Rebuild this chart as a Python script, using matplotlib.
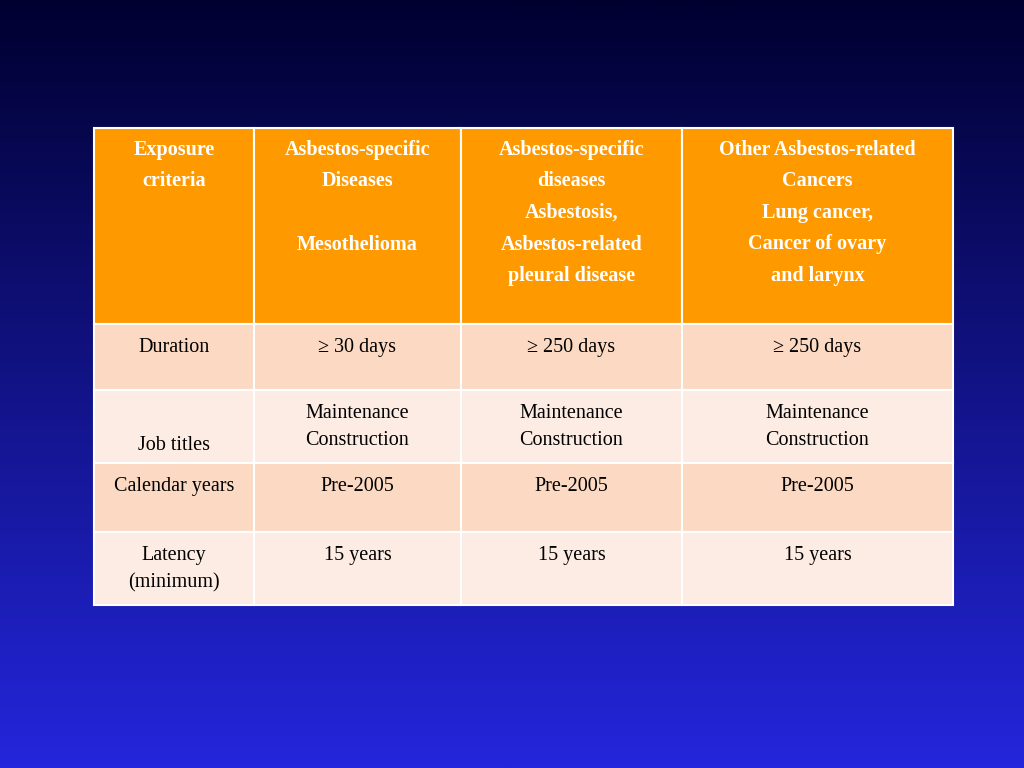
import numpy as np
import matplotlib.pyplot as plt
from matplotlib.patches import Rectangle

# table content
header = [
    ["Exposure", "criteria", "", "", ""],
    ["Asbestos-specific", "Diseases", "", "Mesothelioma", ""],
    ["Asbestos-specific", "diseases", "Asbestosis,", "Asbestos-related", "pleural disease"],
    ["Other Asbestos-related", "Cancers", "Lung cancer,", "Cancer of ovary", "and larynx"],
]
row_labels = ["Duration", "Job titles", "Calendar years", "Latency\n(minimum)"]
duration = ["\u2265 30 days", "\u2265 250 days", "\u2265 250 days"]
job_titles = ["Maintenance\nConstruction"] * 3
calendar_years = ["Pre-2005"] * 3
latency = ["15 years"] * 3
body = [duration, job_titles, calendar_years, latency]

col_edges = [94, 254, 461, 682, 953]
row_edges = [128, 324, 390, 463, 532, 605]
row_colors = ["#fbd9c2", "#fdece3", "#fbd9c2", "#fdece3"]
orange = "#ff9900"

fig = plt.figure(figsize=(10.24, 7.68), dpi=100)
ax = fig.add_axes([0, 0, 1, 1])
ax.set_xlim(0, 1024)
ax.set_ylim(768, 0)
ax.axis("off")

# background gradient
top = np.array([0x00, 0x00, 0x30]) / 255
bot = np.array([0x24, 0x26, 0xdc]) / 255
t = np.linspace(0, 1, 256)[:, None]
grad = top + (bot - top) * t
ax.imshow(grad[:, None, :], extent=(0, 1024, 768, 0), aspect="auto", zorder=0)

font = "Liberation Serif"
fs = 14.5
lh = 31.5

# header row
for c in range(4):
    x0, x1 = col_edges[c], col_edges[c + 1]
    ax.add_patch(Rectangle((x0, row_edges[0]), x1 - x0, row_edges[1] - row_edges[0],
                           facecolor=orange, edgecolor="white", lw=1.5, zorder=1))
    for i, line in enumerate(header[c]):
        if line:
            ax.text((x0 + x1) / 2, 150 + i * lh, line, ha="center", va="center",
                    color="white", fontsize=fs, fontweight="bold", family=font, zorder=2)

# body rows
for r in range(4):
    y0, y1 = row_edges[r + 1], row_edges[r + 2]
    for c in range(4):
        x0, x1 = col_edges[c], col_edges[c + 1]
        ax.add_patch(Rectangle((x0, y0), x1 - x0, y1 - y0, facecolor=row_colors[r],
                               edgecolor="white", lw=1.5, zorder=1))
        txt = row_labels[r] if c == 0 else body[r][c - 1]
        ty = y0 + 23
        if r == 1 and c == 0:
            ty = y0 + 55
        ax.text((x0 + x1) / 2, ty - 9, txt, ha="center", va="top", color="black",
                fontsize=fs, family=font, linespacing=1.55, zorder=2)

fig.savefig("out.png", dpi=100)
